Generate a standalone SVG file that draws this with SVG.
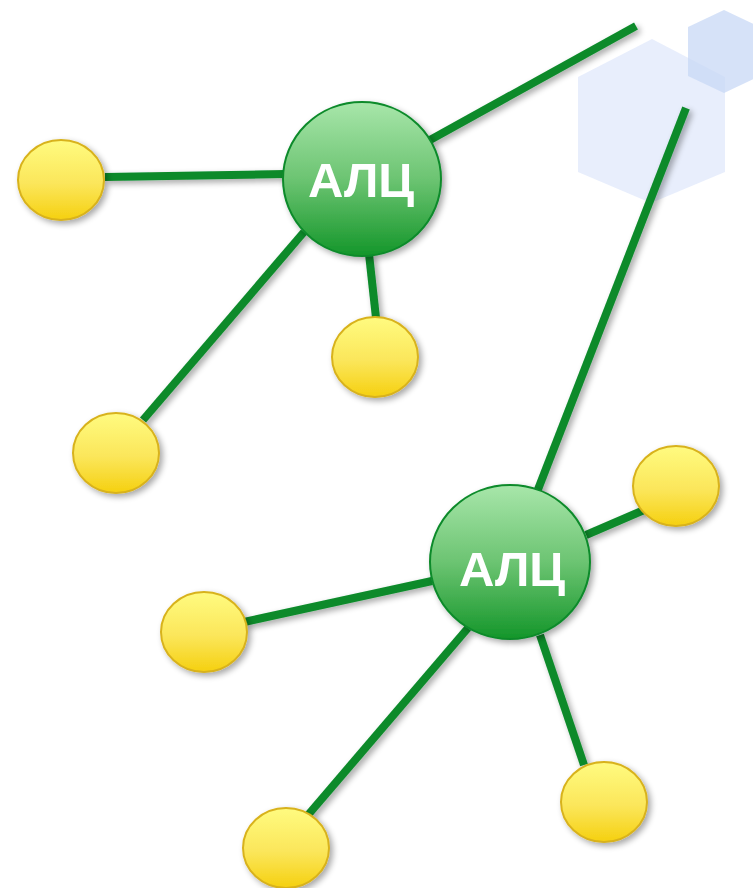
<svg xmlns="http://www.w3.org/2000/svg" width="753" height="888" viewBox="0 0 753 888">
  <defs>
    <linearGradient id="gGreen" x1="0" y1="0" x2="0" y2="1">
      <stop offset="0" stop-color="#a8e6aa"/>
      <stop offset="0.5" stop-color="#6cc472"/>
      <stop offset="1" stop-color="#14962a"/>
    </linearGradient>
    <linearGradient id="gYellow" x1="0" y1="0" x2="0" y2="1">
      <stop offset="0" stop-color="#fffb80"/>
      <stop offset="0.55" stop-color="#fbe65a"/>
      <stop offset="1" stop-color="#f5d010"/>
    </linearGradient>
    <filter id="shadow" x="-30%" y="-30%" width="160%" height="160%">
      <feGaussianBlur in="SourceAlpha" stdDeviation="3"/>
      <feOffset dx="3" dy="3" result="b"/>
      <feComponentTransfer><feFuncA type="linear" slope="0.35"/></feComponentTransfer>
      <feMerge><feMergeNode/><feMergeNode in="SourceGraphic"/></feMerge>
    </filter>
  </defs>
  <style>
    .link { stroke: #0a8a2a; stroke-width: 8; fill: none; }
    .hub { fill: url(#gGreen); stroke: #0a8a2a; stroke-width: 2; }
    .leaf { fill: url(#gYellow); stroke: #d8b21c; stroke-width: 2; }
    .label { font-family: "Liberation Sans", Arial, sans-serif; font-weight: bold; font-size: 49px; fill: #ffffff; text-anchor: middle; }
  </style>

  <rect width="753" height="888" fill="#ffffff"/>

  <!-- decorative hexagons -->
  <g id="decor">
    <polygon points="652,39 725,77 725,172 651,203 578,172 578,77" fill="#e2eafb" opacity="0.8"/>
    <polygon points="724,10 760,27 760,76 724,93 688,76 688,27" fill="#c8d8f6" opacity="0.75"/>
  </g>

  <g id="connectors" filter="url(#shadow)">
    <line class="link" x1="105" y1="177" x2="285" y2="174"/>
    <line class="link" x1="304" y1="232" x2="143" y2="420"/>
    <line class="link" x1="369" y1="254" x2="376" y2="318"/>
    <line class="link" x1="430" y1="140" x2="636" y2="26"/>
    <line class="link" x1="686" y1="108" x2="537" y2="492"/>
    <line class="link" x1="586" y1="535" x2="644" y2="510"/>
    <line class="link" x1="244" y1="622" x2="432" y2="581"/>
    <line class="link" x1="468" y1="628" x2="308" y2="815"/>
    <line class="link" x1="540" y1="635" x2="584" y2="765"/>
  </g>

  <g id="hub1" filter="url(#shadow)">
    <ellipse class="hub" cx="362" cy="179" rx="79" ry="77"/>
    <text class="label" x="361" y="197">АЛЦ</text>
  </g>
  <g id="hub2" filter="url(#shadow)">
    <ellipse class="hub" cx="510" cy="562" rx="80" ry="77"/>
    <text class="label" x="512" y="586">АЛЦ</text>
  </g>

  <g id="leaf1" filter="url(#shadow)"><ellipse class="leaf" cx="61" cy="180" rx="43" ry="40"/></g>
  <g id="leaf2" filter="url(#shadow)"><ellipse class="leaf" cx="116" cy="453" rx="43" ry="40"/></g>
  <g id="leaf3" filter="url(#shadow)"><ellipse class="leaf" cx="375" cy="357" rx="43" ry="40"/></g>
  <g id="leaf4" filter="url(#shadow)"><ellipse class="leaf" cx="676" cy="486" rx="43" ry="40"/></g>
  <g id="leaf5" filter="url(#shadow)"><ellipse class="leaf" cx="204" cy="632" rx="43" ry="40"/></g>
  <g id="leaf6" filter="url(#shadow)"><ellipse class="leaf" cx="604" cy="802" rx="43" ry="40"/></g>
  <g id="leaf7" filter="url(#shadow)"><ellipse class="leaf" cx="286" cy="848" rx="43" ry="40"/></g>
</svg>
